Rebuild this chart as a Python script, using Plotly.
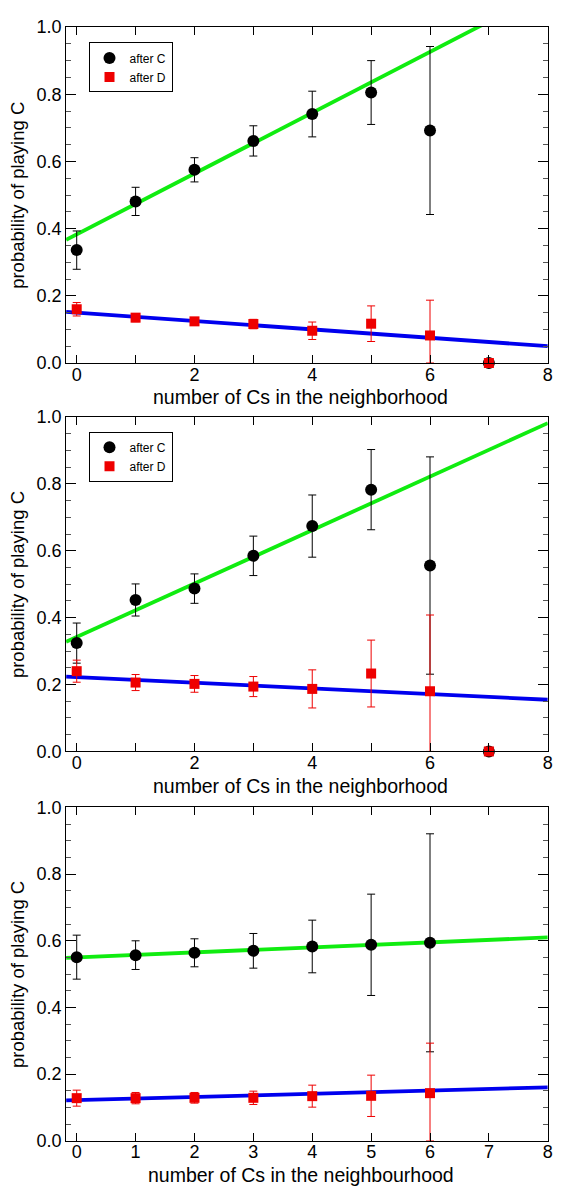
import plotly.graph_objects as go

# Number of cooperating neighbours (x) and the measured probabilities of playing C
neighbours = [0, 1, 2, 3, 4, 5, 6, 7]
neighbours_p3 = [0, 1, 2, 3, 4, 5, 6]

# Panel 1
after_c_1 = [0.336, 0.481, 0.575, 0.661, 0.741, 0.805, 0.692, 0.0]
after_c_1_err = [0.057, 0.042, 0.036, 0.045, 0.068, 0.095, 0.250, 0.0]
after_d_1 = [0.160, 0.135, 0.124, 0.116, 0.096, 0.117, 0.082, 0.0]
after_d_1_err = [0.020, 0.012, 0.010, 0.014, 0.026, 0.053, 0.105, 0.0]

# Panel 2
after_c_2 = [0.324, 0.453, 0.487, 0.585, 0.674, 0.783, 0.556, 0.0]
after_c_2_err = [0.060, 0.048, 0.044, 0.059, 0.093, 0.120, 0.325, 0.0]
after_d_2 = [0.240, 0.206, 0.202, 0.194, 0.187, 0.233, 0.180, 0.0]
after_d_2_err = [0.033, 0.024, 0.025, 0.030, 0.057, 0.100, 0.228, 0.0]

# Panel 3
after_c_3 = [0.551, 0.557, 0.564, 0.570, 0.583, 0.588, 0.594]
after_c_3_err = [0.066, 0.043, 0.042, 0.052, 0.079, 0.152, 0.327]
after_d_3 = [0.128, 0.128, 0.129, 0.129, 0.134, 0.135, 0.143]
after_d_3_err = [0.024, 0.017, 0.016, 0.020, 0.033, 0.062, 0.150]

# Linear fits (intercept, slope) for each panel
fit_after_c = [(0.383, 0.0905), (0.342, 0.080), (0.5503, 0.0075)]
fit_after_d = [(0.150, -0.0125), (0.2225, -0.0085), (0.122, 0.0048)]

x_titles = [
    "number of Cs in the neighborhood",
    "number of Cs in the neighborhood",
    "number of Cs in the neighbourhood",
]
y_title = "probability of playing C"

X_RANGE = [-0.18, 8.0]
W, H = 561, 1199
FONT = "Liberation Sans, Arial, Helvetica, sans-serif"

# Plot-area boxes in pixels (top, bottom)
panel_px = [(17.3, 359.0), (414.0, 754.0), (811.0, 1150.0)]
x_px = (66.7, 552.7)

GREEN = "#10ec10"
BLUE = "#0000ee"
RED = "#ee0000"

panels = [
    (neighbours, after_c_1, after_c_1_err, neighbours, after_d_1, after_d_1_err),
    (neighbours, after_c_2, after_c_2_err, neighbours, after_d_2, after_d_2_err),
    (neighbours_p3, after_c_3, after_c_3_err, neighbours_p3, after_d_3, after_d_3_err),
]

fig = go.Figure()
layout = dict(
    width=W, height=H, margin=dict(l=0, r=0, t=0, b=0),
    paper_bgcolor="white", plot_bgcolor="white",
    font=dict(family=FONT, color="black"),
    showlegend=True,
    annotations=[],
)

for i, (xc, yc, ec, xd, yd, ed) in enumerate(panels):
    n = i + 1
    xa = "x" if n == 1 else f"x{n}"
    ya = "y" if n == 1 else f"y{n}"
    legend_name = "legend" if n == 1 else f"legend{n}"

    b0, i0 = fit_after_c[i]
    b1, i1 = fit_after_d[i]
    fig.add_trace(go.Scatter(
        x=X_RANGE, y=[b0 + i0 * X_RANGE[0], b0 + i0 * X_RANGE[1]],
        mode="lines", line=dict(color=GREEN, width=3.8),
        xaxis=xa, yaxis=ya, showlegend=False, hoverinfo="skip"))
    fig.add_trace(go.Scatter(
        x=X_RANGE, y=[b1 + i1 * X_RANGE[0], b1 + i1 * X_RANGE[1]],
        mode="lines", line=dict(color=BLUE, width=3.8),
        xaxis=xa, yaxis=ya, showlegend=False, hoverinfo="skip"))

    show_leg = n in (1, 2)
    fig.add_trace(go.Scatter(
        x=xc, y=yc, mode="markers", name="after C",
        marker=dict(symbol="circle", size=12, color="black"),
        error_y=dict(type="data", array=ec,
                     arrayminus=[min(e, v) for e, v in zip(ec, yc)],
                     color="black", thickness=1, width=4),
        cliponaxis=False, xaxis=xa, yaxis=ya,
        showlegend=show_leg, legend=legend_name))
    fig.add_trace(go.Scatter(
        x=xd, y=yd, mode="markers", name="after D",
        marker=dict(symbol="square", size=10, color=RED),
        error_y=dict(type="data", array=ed,
                     arrayminus=[min(e, v) for e, v in zip(ed, yd)],
                     color=RED, thickness=1, width=4),
        cliponaxis=False, xaxis=xa, yaxis=ya,
        showlegend=show_leg, legend=legend_name))

    top, bot = panel_px[i]
    ydom = [1 - bot / H, 1 - top / H]
    xdom = [x_px[0] / W, x_px[1] / W]
    xkey = "xaxis" if n == 1 else f"xaxis{n}"
    ykey = "yaxis" if n == 1 else f"yaxis{n}"
    layout[xkey] = dict(
        domain=xdom, anchor=ya, range=X_RANGE,
        tick0=0, dtick=(1 if n == 3 else 2),
        ticks="inside", ticklen=8, tickwidth=1, tickcolor="black",
        minor=dict(dtick=1, tick0=0, ticks="inside", ticklen=8,
                   tickwidth=1, tickcolor="black"),
        showline=True, linecolor="black", linewidth=1, mirror="allticks",
        showgrid=False, zeroline=False,
        tickfont=dict(family=FONT, size=18, color="black"),
        ticklabelstandoff=-5,
        fixedrange=True,
    )
    layout[ykey] = dict(
        domain=ydom, anchor=xa, range=[0, 1],
        tick0=0, dtick=0.2, tickformat=".1f",
        ticks="inside", ticklen=10, tickwidth=1, tickcolor="black",
        minor=dict(dtick=0.05, tick0=0, ticks="inside", ticklen=5,
                   tickwidth=1, tickcolor="#555555"),
        showline=True, linecolor="black", linewidth=1, mirror="allticks",
        showgrid=False, zeroline=False,
        tickfont=dict(family=FONT, size=18, color="black"),
        fixedrange=True,
    )

    # Axis titles
    layout["annotations"].append(dict(
        text=x_titles[i], xref="paper", yref="paper",
        x=(x_px[0] + x_px[1] - 12) / 2 / W, y=1 - (bot + 35) / H,
        xanchor="center", yanchor="middle", showarrow=False,
        font=dict(family=FONT, size=19.5, color="black")))
    layout["annotations"].append(dict(
        text=y_title, xref="paper", yref="paper",
        x=17 / W, y=1 - (top + bot) / 2 / H, textangle=-90,
        xanchor="center", yanchor="middle", showarrow=False,
        font=dict(family=FONT, size=18.5, color="black")))

legend_style = dict(
    xanchor="left", yanchor="top", bgcolor="white",
    bordercolor="black", borderwidth=1,
    font=dict(family=FONT, size=12, color="black"),
    tracegroupgap=0, itemclick=False, itemdoubleclick=False,
)
layout["legend"] = dict(x=89.3 / W, y=1 - 33.0 / H, **legend_style)
layout["legend2"] = dict(x=89.3 / W, y=1 - 429.0 / H, **legend_style)

fig.update_layout(**layout)
fig.write_html("out.html", config={"displayModeBar": False})
